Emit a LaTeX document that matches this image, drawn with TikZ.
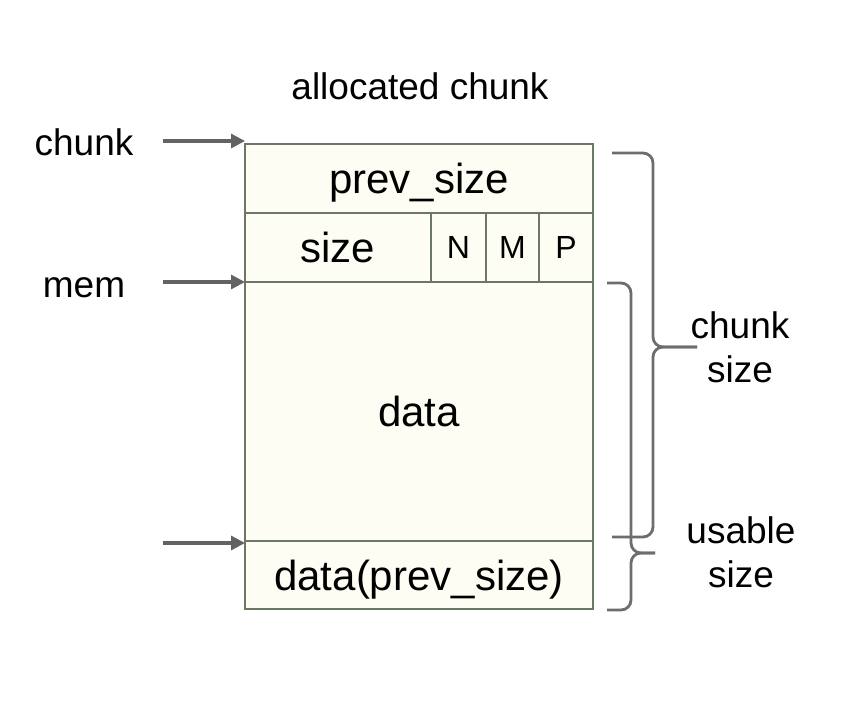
\documentclass[tikz,border=0pt]{standalone}
\usepackage{fontspec}
\setmainfont{Liberation Sans}
\usetikzlibrary{arrows.meta,positioning}

\definecolor{cellfill}{HTML}{FDFDF4}
\definecolor{celledge}{HTML}{6B7866}
\definecolor{ptrgray}{HTML}{636363}
\definecolor{bracegray}{HTML}{6D6D6D}

\tikzset{
  cell/.style={draw=celledge, fill=cellfill, line width=1.6pt, inner sep=0pt,
    outer sep=0pt, font=\fontsize{42}{46}\selectfont, anchor=north west},
  flag/.style={cell, font=\fontsize{32}{36}\selectfont},
  lbl/.style={font=\fontsize{37}{44}\selectfont, align=center},
  ptr/.style={draw=ptrgray, line width=3.2pt, -{Triangle[length=14pt,width=14pt]}},
  curly/.style={draw=bracegray, line width=2.8pt, rounded corners=10pt}
}

\begin{document}
\begin{tikzpicture}[x=1pt,y=-1pt]
  \useasboundingbox (0,0) rectangle (851,701);

  % the chunk
  \node[cell, minimum width=348pt, minimum height=69pt, text depth=0pt] (prev) at (245,144) {prev\_size};
  \node[cell, minimum width=186pt, minimum height=69pt] (size) at (prev.south west) {size};
  \node[flag, minimum width=55pt, minimum height=69pt] (nbit) at (size.north east) {N};
  \node[flag, minimum width=53pt, minimum height=69pt] (mbit) at (nbit.north east) {M};
  \node[flag, minimum width=54pt, minimum height=69pt] (pbit) at (mbit.north east) {P};
  \node[cell, minimum width=348pt, minimum height=259pt] (data) at (size.south west) {data};
  \node[cell, minimum width=348pt, minimum height=68pt, text depth=0pt] (tail) at (data.south west) {data(prev\_size)};

  % labels
  \node[lbl] (title) at (420,86) {allocated chunk};
  \node[lbl] (lblchunk) at (84,142) {chunk};
  \node[lbl] (lblmem) at (84,288) {mem};
  \node[lbl] (lblchunksize) at (740,347) {chunk\\size};
  \node[lbl] (lblusable) at (741,552) {usable\\size};

  % pointers
  \coordinate (chunkptr) at (163,141);
  \coordinate (memptr) at (163,282);
  \coordinate (nextptr) at (163,543);
  \draw[ptr] (chunkptr) -- (chunkptr -| prev.west);
  \draw[ptr] (memptr) -- (memptr -| data.west);
  \draw[ptr] (nextptr) -- (nextptr -| tail.west);

  % braces
  \draw[curly] (612,153) -| (653,347) -- (697,347);
  \draw[curly] (697,347) -- (653,347) |- (612,537);
  \draw[curly] (607,283) -| (631,553) -- (655,553);
  \draw[curly] (655,553) -- (631,553) |- (607,610);
\end{tikzpicture}
\end{document}
